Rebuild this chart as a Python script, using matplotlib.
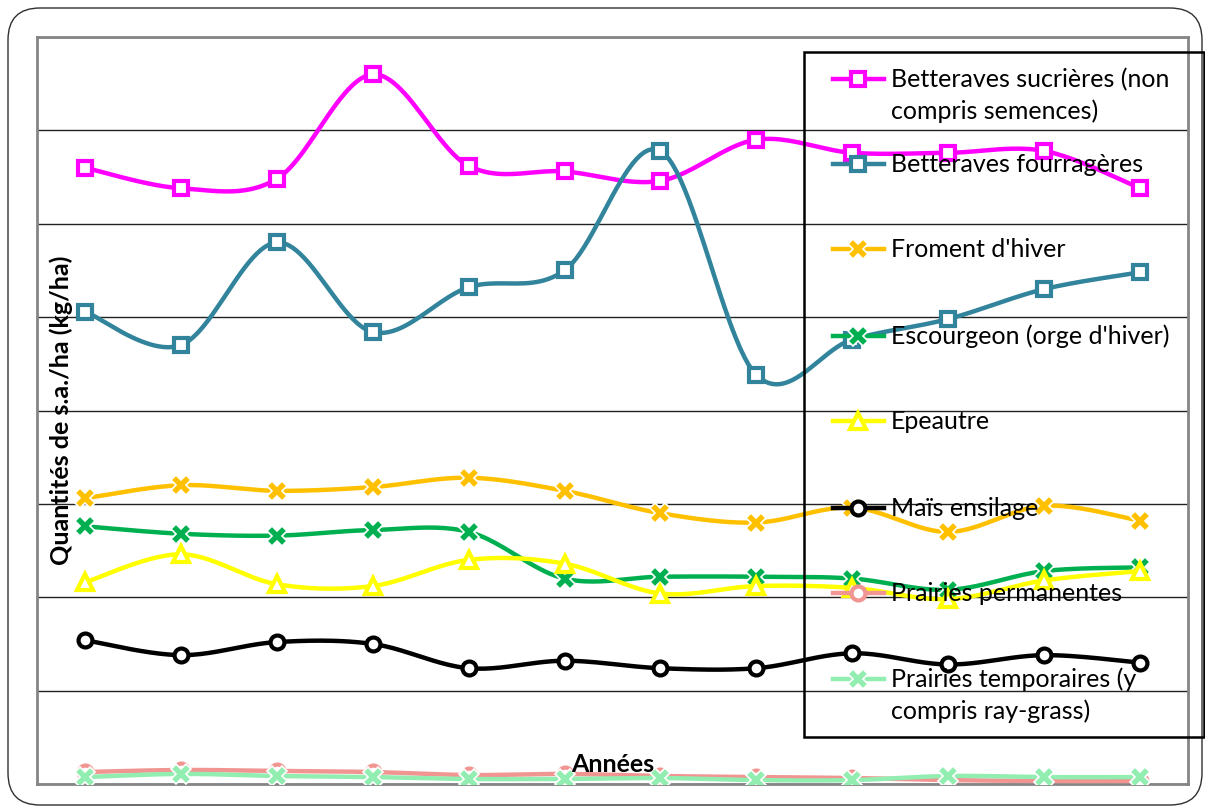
import numpy as np
import matplotlib
matplotlib.use("Agg")
import matplotlib.pyplot as plt
from matplotlib.lines import Line2D
from matplotlib.patches import FancyBboxPatch, Rectangle
from matplotlib.transforms import IdentityTransform

plt.rcParams['font.family'] = ['Lato', 'DejaVu Sans']

# ---------------- data ----------------
years = [str(i) for i in range(1, 13)]  # 12 unlabeled year categories

betteraves_sucrieres = [3.30, 3.19, 3.24, 3.80, 3.31, 3.28, 3.23, 3.45, 3.38, 3.38, 3.39, 3.19]
betteraves_fourrageres = [2.53, 2.35, 2.90, 2.42, 2.66, 2.75, 3.39, 2.19, 2.38, 2.49, 2.65, 2.74]
froment_hiver = [1.53, 1.60, 1.57, 1.59, 1.64, 1.57, 1.45, 1.40, 1.48, 1.35, 1.49, 1.41]
escourgeon = [1.38, 1.34, 1.33, 1.36, 1.35, 1.10, 1.11, 1.11, 1.10, 1.04, 1.14, 1.16]
epeautre = [1.08, 1.23, 1.07, 1.06, 1.20, 1.18, 1.02, 1.06, 1.05, 0.99, 1.09, 1.14]
mais_ensilage = [0.77, 0.69, 0.76, 0.75, 0.62, 0.66, 0.62, 0.62, 0.70, 0.64, 0.69, 0.65]
prairies_permanentes = [0.064, 0.075, 0.070, 0.064, 0.048, 0.054, 0.043, 0.037, 0.032, 0.021, 0.016, 0.016]
prairies_temporaires = [0.037, 0.054, 0.043, 0.037, 0.027, 0.027, 0.032, 0.021, 0.021, 0.043, 0.037, 0.037]

labels = [
    "Betteraves sucrières (non\ncompris semences)",
    "Betteraves fourragères",
    "Froment d'hiver",
    "Escourgeon (orge d'hiver)",
    "Epeautre",
    "Maïs ensilage",
    "Prairies permanentes",
    "Prairies temporaires (y\ncompris ray-grass)",
]
series = [betteraves_sucrieres, betteraves_fourrageres, froment_hiver, escourgeon,
          epeautre, mais_ensilage, prairies_permanentes, prairies_temporaires]

y_label = "Quantités de s.a./ha (kg/ha)"
x_label = "Années"

# ---------------- styles ----------------
styles = [
    dict(color='#FF00FF', marker='s', mfc='white', mec='#FF00FF', ms=10, mew=3),
    dict(color='#31849B', marker='s', mfc='white', mec='#31849B', ms=10, mew=3),
    dict(color='#FFC000', marker='X', mfc='#FFC000', mec='white', ms=15, mew=1.2),
    dict(color='#00B050', marker='X', mfc='#00B050', mec='white', ms=14, mew=1.2),
    dict(color='#FFFF00', marker='^', mfc='white', mec='#FFFF00', ms=11, mew=3),
    dict(color='#000000', marker='o', mfc='white', mec='#000000', ms=10, mew=3),
    dict(color='#F19592', marker='o', mfc='white', mec='#F19592', ms=10, mew=3),
    dict(color='#92EDB0', marker='X', mfc='#92EDB0', mec='white', ms=14, mew=1.2),
]


def smooth(xs, ys, n=24):
    """Catmull-Rom spline through the points (Excel-like smoothed line)."""
    xs = np.asarray(xs, float)
    ys = np.asarray(ys, float)
    P = np.column_stack([xs, ys])
    P = np.vstack([P[0], P, P[-1]])
    out = []
    for i in range(1, len(P) - 2):
        p0, p1, p2, p3 = P[i - 1], P[i], P[i + 1], P[i + 2]
        t = np.linspace(0, 1, n, endpoint=False)[:, None]
        c1 = p1 + (p2 - p0) / 6.0
        c2 = p2 - (p3 - p1) / 6.0
        seg = ((1 - t) ** 3) * p1 + 3 * ((1 - t) ** 2) * t * c1 + 3 * (1 - t) * t ** 2 * c2 + t ** 3 * p2
        out.append(seg)
    out.append(P[-2][None, :])
    out = np.vstack(out)
    return out[:, 0], out[:, 1]


W, H = 1205, 808
fig = plt.figure(figsize=(W / 100, H / 100), dpi=100)

# outer rounded border
fig.patches.append(FancyBboxPatch((8, 3), 1194, 797, boxstyle="round,pad=0,rounding_size=32",
                                  transform=IdentityTransform(), fill=False,
                                  edgecolor='#303030', linewidth=1.0, zorder=0))

ax = fig.add_axes([37 / W, (H - 784) / H, 1151 / W, 747 / H])
ax.set_xlim(-0.5, len(years) - 0.5)
ax.set_ylim(0, 4)
ax.set_yticks(np.arange(0, 4.01, 0.5))
ax.set_xticks([])
ax.tick_params(left=False, labelleft=False, bottom=False, labelbottom=False)
ax.grid(axis='y', color='#222222', linewidth=1.0)
ax.set_axisbelow(True)
for s in ax.spines.values():
    s.set_color('#858585')
    s.set_linewidth(2)

x = np.arange(len(years))
for i, (vals, st) in enumerate(zip(series, styles)):
    sx, sy = smooth(x, vals)
    ax.plot(sx, sy, color=st['color'], lw=3.2, solid_capstyle='round', zorder=2 + i * 0.1)
    ax.plot(x, vals, linestyle='none', marker=st['marker'], mfc=st['mfc'], mec=st['mec'],
            ms=st['ms'], mew=st['mew'], zorder=2.05 + i * 0.1)

# axis titles
fig.text(61 / W, 1 - 410 / H, y_label, rotation=90, ha='center', va='center',
         fontsize=18, fontweight='bold')
fig.text(613 / W, 1 - 764 / H, x_label, ha='center', va='center',
         fontsize=18, fontweight='bold')

# legend (drawn manually to mimic layout)
fig.patches.append(Rectangle((804 / W, 1 - 737 / H), 400 / W, 685 / H, transform=fig.transFigure,
                             fill=False, edgecolor='black', linewidth=1.8, zorder=5))
entry_y = [79, 164, 249, 336, 421, 508, 593, 679]
for lab, st, ey in zip(labels, styles, entry_y):
    fy = 1 - ey / H
    fig.add_artist(Line2D([833 / W, 884 / W], [fy, fy], color=st['color'], lw=3.2,
                          transform=fig.transFigure, zorder=6))
    fig.add_artist(Line2D([858 / W], [fy], linestyle='none', marker=st['marker'], mfc=st['mfc'],
                          mec=st['mec'], ms=st['ms'], mew=st['mew'],
                          transform=fig.transFigure, zorder=6.1))
    for k, line in enumerate(lab.split('\n')):
        fig.text(891 / W, 1 - (ey + 8 + 32 * k) / H, line, ha='left', va='baseline',
                 fontsize=18, zorder=7, transform=fig.transFigure)

fig.savefig('out.png', dpi=100)
